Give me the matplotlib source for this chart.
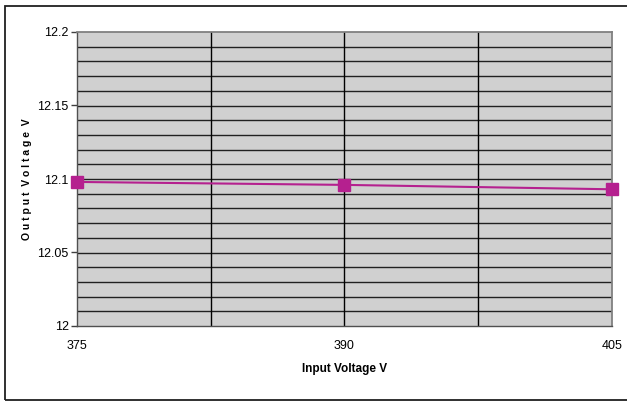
import numpy as np
from matplotlib import pyplot as plt
from matplotlib.patches import Rectangle

plt.rcParams['font.family'] = ['Liberation Sans', 'DejaVu Sans']

# measured output voltage against input voltage
input_v = [375, 390, 405]
output_v = [12.098, 12.096, 12.093]
x_ticks = [375, 390, 405]
y_ticks = [12, 12.05, 12.1, 12.15, 12.2]
y_tick_labels = ["12", "12.05", "12.1", "12.15", "12.2"]

W, H = 627, 401
fig = plt.figure(figsize=(W / 100, H / 100), dpi=100)
# plot area in pixels: left 77, right 612, top 32, bottom 326
ax = fig.add_axes([77 / W, 1 - 326 / H, (612 - 77) / W, (326 - 32) / H])
ax.set_facecolor('#d0d0d0')

ax.set_xlim(375, 405)
ax.set_ylim(12, 12.2)

# grid: every 0.01 V and every 7.5 V
for yv in np.arange(12.01, 12.2, 0.01):
    ax.axhline(yv, color='#202020', lw=1.0, zorder=1)
for xv in [382.5, 390, 397.5]:
    ax.axvline(xv, color='black', lw=1.0, zorder=1)

magenta = '#b5208f'
ax.plot(input_v, output_v, color=magenta, lw=1.5, marker='s', markersize=8,
        markerfacecolor=magenta, markeredgecolor=magenta, clip_on=False, zorder=5)

ax.set_xticks(x_ticks)
ax.set_yticks(y_ticks)
ax.set_yticklabels(y_tick_labels)
ax.tick_params(axis='x', length=0, pad=10, labelsize=9)
ax.tick_params(axis='y', length=4, width=1, direction='out', pad=2, labelsize=9,
               color='#404040')

for side in ['top', 'right']:
    ax.spines[side].set_color('#808080')
    ax.spines[side].set_linewidth(1.3)
ax.spines['left'].set_color('#505050')
ax.spines['bottom'].set_color('#505050')
ax.spines['left'].set_linewidth(1.0)
ax.spines['bottom'].set_linewidth(1.0)

fig.text(345 / W, 1 - 369 / H, "Input Voltage V", ha='center', va='center',
         fontsize=8.5, fontweight='bold')
fig.text(27 / W, 1 - 179 / H, "O u t p u t  V o l t a g e  V", ha='center', va='center',
         rotation=90, fontsize=7.5, fontweight='bold')

# outer chart frame
fig.patches.append(Rectangle((5 / W, 1 - 400 / H), (W + 5) / W, (400 - 6) / H,
                             transform=fig.transFigure, fill=False,
                             edgecolor='#202020', lw=1.3))

plt.savefig('out.png', dpi=100)
